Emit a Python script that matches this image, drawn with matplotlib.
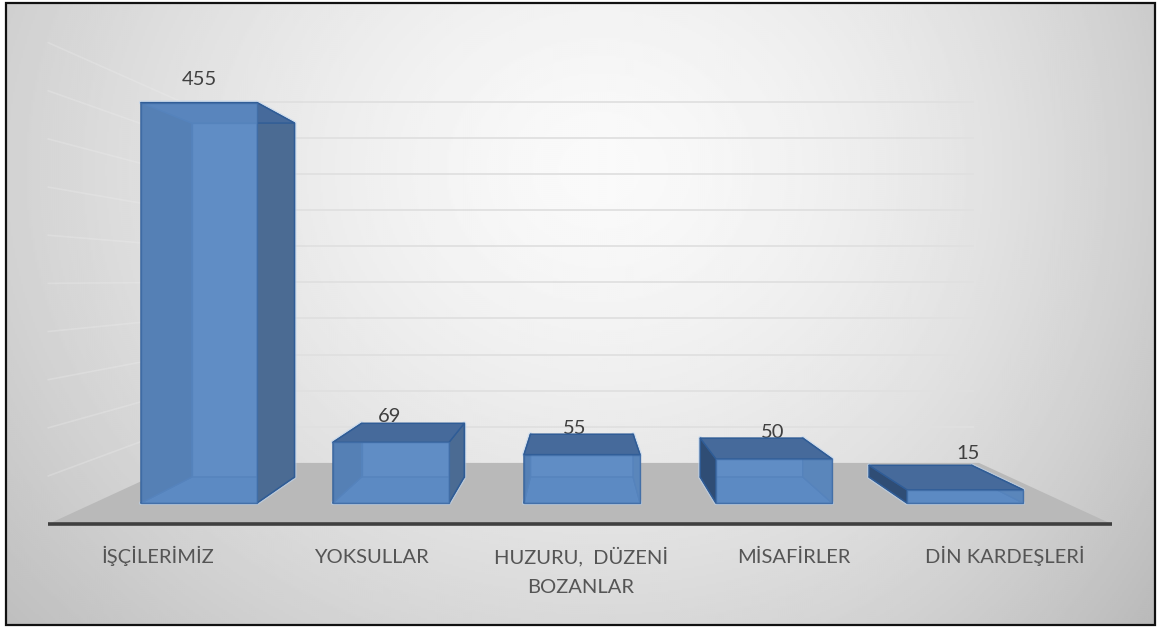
import numpy as np
import matplotlib
matplotlib.use("Agg")
import matplotlib.pyplot as plt
from matplotlib.patches import Polygon, Rectangle

# data
categories = ["İŞÇİLERİMİZ", "YOKSULLAR", "HUZURU,  DÜZENİ\nBOZANLAR", "MİSAFİRLER", "DİN KARDEŞLERİ"]
values = [455, 69, 55, 50, 15]
grid_values = [50, 100, 150, 200, 250, 300, 350, 400, 450, 500]

# layout, in pixels of the front plane of the bars
bar_left = [141, 333, 524, 716, 907]
bar_width = 116
label_x = [158, 371, 581, 794, 1005]
value_x = [199, 390, 575, 773, 968]
value_gap = [15, -2, -3, -3, 3]

# one point perspective
VX, VY = 580, 279
BASE = 224
PX_PER_UNIT = 0.88
FLOOR_FRONT = 1.094
BAR_FRONT = 1.0
BAR_BACK = 0.884
WALL = 0.821
WORLD_LEFT, WORLD_RIGHT = 94, 1066
GRID_RIGHT = 1059


def project(x, value, s):
    return (VX + s * (x - VX), VY + s * (BASE - value * PX_PER_UNIT))


def poly(ax, pts, face, edge="#3c689f", alpha=0.9, z=3, lw=1.0):
    ax.add_patch(Polygon(pts, closed=True, facecolor=face, edgecolor=edge,
                         alpha=alpha, zorder=z, linewidth=lw, joinstyle="round"))


fig = plt.figure(figsize=(11.61, 6.28), dpi=100, facecolor="white")
ax = fig.add_axes([0, 0, 1, 1])

# background gradient
yy, xx = np.mgrid[3:625:311j, 6:1155:575j]
t = np.sqrt(((xx - 600) / 720) ** 2 + ((yy - 170) / 620) ** 2)
gray = np.clip(250 - 52 * t ** 1.4 - 8 * np.clip((xx - 800) / 355, 0, 1) ** 2, 0, 255) / 255
ax.imshow(gray, cmap="gray", vmin=0, vmax=1, extent=(6, 1155, 625, 3), aspect="auto", zorder=0)

# floor
poly(ax, [project(WORLD_LEFT, 0, FLOOR_FRONT), project(WORLD_RIGHT, 0, FLOOR_FRONT),
          project(WORLD_RIGHT, 0, WALL), project(WORLD_LEFT, 0, WALL)],
     "#b9b9b9", edge="none", alpha=1, z=1)

# gridlines, back wall and faint ones on the left wall
for g in grid_values:
    p_back_l = project(WORLD_LEFT, g, WALL)
    p_back_r = project(GRID_RIGHT, g, WALL)
    p_front_l = project(WORLD_LEFT, g, FLOOR_FRONT)
    ax.plot([p_back_l[0], p_back_r[0]], [p_back_l[1], p_back_r[1]], color="#e0e0e0", lw=1.3, zorder=1)
    ax.plot([p_back_l[0], p_front_l[0]], [p_back_l[1], p_front_l[1]], color="#eeeeee", lw=1.2, alpha=0.3, zorder=1)

# axis line at the front of the floor
a = project(WORLD_LEFT, 0, FLOOR_FRONT)
b = project(WORLD_RIGHT, 0, FLOOR_FRONT)
ax.plot([a[0], b[0]], [a[1], b[1]], color="#3f3f3f", lw=2.6, solid_capstyle="butt", zorder=2)

# bars
for left, val in zip(bar_left, values):
    right = left + bar_width
    fbl, fbr = project(left, 0, BAR_FRONT), project(right, 0, BAR_FRONT)
    ftl, ftr = project(left, val, BAR_FRONT), project(right, val, BAR_FRONT)
    bbl, bbr = project(left, 0, BAR_BACK), project(right, 0, BAR_BACK)
    btl, btr = project(left, val, BAR_BACK), project(right, val, BAR_BACK)

    # glow round the whole shape
    poly(ax, [ftl, ftr, btr, bbr, fbr, fbl, bbl, btl], "none", edge="#bcd3ee", alpha=0.6, z=2.5, lw=3)

    poly(ax, [bbl, bbr, btr, btl], "#6690c5", edge="#2f5c96", alpha=1, z=3)
    poly(ax, [fbl, fbr, bbr, bbl], "#5582bb", edge="#2f5c96", alpha=1, z=3.1)
    poly(ax, [fbr, ftr, btr, bbr], "#4b6b93", edge="#2f5c96", alpha=1, z=3.2)
    poly(ax, [fbl, ftl, btl, bbl], "#2f4d75", edge="#2f5c96", alpha=1, z=3.2)
    poly(ax, [ftl, ftr, btr, btl], "#466a9b", edge="#2f5c96", alpha=1, z=3.3)
    # front face is see-through so the inner edges show
    poly(ax, [fbl, fbr, ftr, ftl], "#5f8dc6", alpha=0.8, z=3.4, edge="#3f6ca6")

# value labels
for x, val, gap, left in zip(value_x, values, value_gap, bar_left):
    top = min(project(left, val, BAR_FRONT)[1], project(left, val, BAR_BACK)[1])
    ax.text(x, top - gap, str(val), ha="center", va="bottom", fontsize=14.5, family="Lato",
            color="#404040", zorder=2.8)

# category labels, one text per line so all first lines share a baseline
for x, name in zip(label_x, categories):
    for i, line in enumerate(name.split("\n")):
        ax.text(x, 563 + 30 * i, line, ha="center", va="baseline", fontsize=14.5, family="Lato",
                color="#555555", zorder=5)

# picture frame
ax.add_patch(Rectangle((6, 3), 1149, 622, fill=False, edgecolor="#111111", linewidth=1.6, zorder=6))

ax.set_xlim(0, 1161)
ax.set_ylim(628, 0)
ax.axis("off")

fig.savefig("out.png", dpi=100)
